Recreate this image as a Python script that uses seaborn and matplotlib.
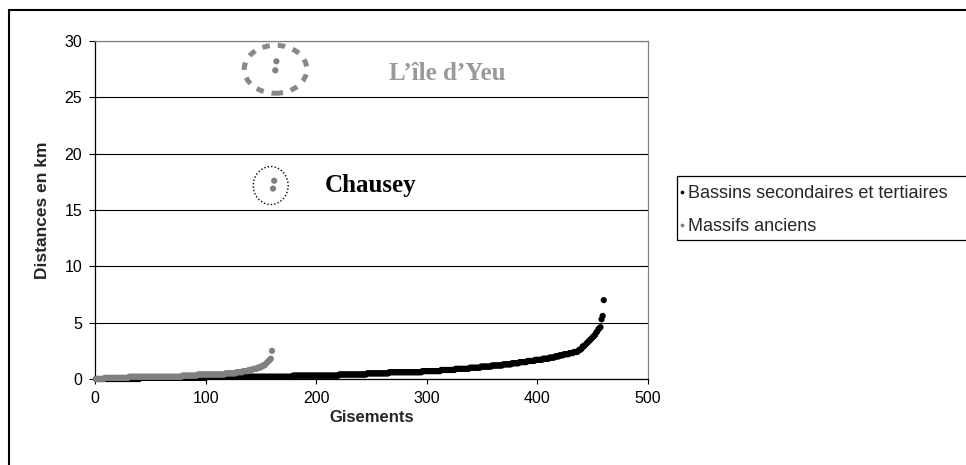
import numpy as np
import pandas as pd
import matplotlib
matplotlib.use("Agg")
import matplotlib.pyplot as plt
import seaborn as sns
from matplotlib.patches import Ellipse, Rectangle

# ---------------- data ----------------
series_names = ["Bassins secondaires et tertiaires", "Massifs anciens"]

# Bassins secondaires et tertiaires: sorted distances, plateaus (km) and their lengths
bassins_levels = [0.0, 0.1, 0.2, 0.3, 0.4, 0.5, 0.6, 0.7, 0.8, 0.9, 1.0, 1.1, 1.2,
                  1.3, 1.4, 1.5, 1.6, 1.7, 1.8, 1.9, 2.0, 2.1, 2.2, 2.3, 2.4]
bassins_counts = [40, 60, 78, 42, 25, 20, 30, 17, 13, 13, 10, 10, 10,
                  8, 7, 7, 7, 7, 6, 5, 4, 4, 5, 4, 4]
bassins_tail = [2.5, 2.6, 2.6, 2.7, 2.9, 2.9, 3.0, 3.1, 3.2, 3.3, 3.4, 3.5,
                3.6, 3.7, 3.8, 3.9, 4.1, 4.2, 4.4, 4.5, 4.6, 5.3, 5.6, 7.0]

# Massifs anciens
massifs_levels = [0.0, 0.1, 0.2, 0.3, 0.4, 0.5, 0.6, 0.7, 0.8, 0.9, 1.0, 1.1, 1.2]
massifs_counts = [8, 22, 48, 14, 25, 10, 6, 5, 4, 4, 3, 2, 2]
massifs_tail = [1.3, 1.4, 1.5, 1.6, 1.7, 1.8, 2.5, 16.9, 17.6, 27.4, 28.2]

x_ticks = [0, 100, 200, 300, 400, 500]
y_ticks = [0, 5, 10, 15, 20, 25, 30]

annot_yeu = "L\u2019île d\u2019Yeu"
annot_chausey = "Chausey"

# ---------------- build table ----------------
bassins = np.concatenate([np.repeat(bassins_levels, bassins_counts), bassins_tail])
massifs = np.concatenate([np.repeat(massifs_levels, massifs_counts), massifs_tail])
df = pd.concat([
    pd.DataFrame({"Gisements": np.arange(1, len(bassins) + 1), "Distances": bassins,
                  "Série": series_names[0]}),
    pd.DataFrame({"Gisements": np.arange(1, len(massifs) + 1), "Distances": massifs,
                  "Série": series_names[1]}),
], ignore_index=True)

# ---------------- style ----------------
sns.set_style("white")
plt.rcParams["font.family"] = ["Liberation Sans", "DejaVu Sans"]

W, H = 966, 465
fig = plt.figure(figsize=(W / 100, H / 100), dpi=100)
ax = fig.add_axes([95 / W, 1 - 379 / H, (648 - 95) / W, (379 - 41) / H])

sns.scatterplot(data=df, x="Gisements", y="Distances", hue="Série",
                palette={series_names[0]: "#000000", series_names[1]: "#808080"},
                s=20, linewidth=0, ax=ax, zorder=3, clip_on=False)

ax.set_xlim(0, 500)
ax.set_ylim(0, 30)
ax.set_xticks(x_ticks)
ax.set_yticks(y_ticks)
ax.tick_params(axis="both", labelsize=11.5, colors="black", direction="out")
ax.tick_params(axis="y", length=4.3, width=0.8, pad=5, left=True)
ax.tick_params(axis="x", length=3.6, width=0.8, pad=5, bottom=True)
ax.yaxis.grid(True, color="black", linewidth=0.8)
ax.xaxis.grid(False)
ax.set_axisbelow(True)
for side in ["left", "bottom"]:
    ax.spines[side].set_color("black")
    ax.spines[side].set_linewidth(0.9)
for side in ["top", "right"]:
    ax.spines[side].set_visible(True)
    ax.spines[side].set_color("#808080")
    ax.spines[side].set_linewidth(0.9)

ax.set_xlabel("Gisements", fontsize=12, fontweight="bold", labelpad=3)
ax.set_ylabel("Distances en km", fontsize=12.5, fontweight="bold", labelpad=10)

# annotations
ax.add_patch(Ellipse((163.2, 27.49), width=56.6, height=4.26, fill=False,
                     edgecolor="#888888", linewidth=3.6, linestyle=(0, (1.5, 1.6)),
                     zorder=4, clip_on=False))
ax.add_patch(Ellipse((158.9, 17.17), width=31.6, height=3.37, fill=False,
                     edgecolor="black", linewidth=1.0, linestyle=(0, (1, 1.5)),
                     zorder=4))
ax.text(318.3, 26.53, annot_yeu, ha="center", va="baseline", fontsize=18,
        fontweight="bold", color="#999999", family=["Liberation Serif", "DejaVu Serif"])
ax.text(248.9, 16.57, annot_chausey, ha="center", va="baseline", fontsize=18,
        fontweight="bold", color="black", family=["Liberation Serif", "DejaVu Serif"])

# legend (frame drawn separately: the reference box is taller than its entries)
handles, labels = ax.get_legend_handles_labels()
ax.legend(handles, labels, loc="upper left",
          bbox_to_anchor=(678 / W, 1 - 185 / H), bbox_transform=fig.transFigure,
          frameon=False, fontsize=13, markerscale=0.6, handlelength=0.4,
          handletextpad=0.15, borderpad=0, labelspacing=0.9, borderaxespad=0)
fig.patches.append(Rectangle((677 / W, 1 - 240 / H), 1.0, 64 / H,
                             transform=fig.transFigure, fill=False,
                             edgecolor="black", linewidth=0.9))

# outer chart frame
fig.patches.append(Rectangle((9 / W, -0.5), 2.0, (1 - 10 / H) + 0.5,
                             transform=fig.transFigure, fill=False,
                             edgecolor="black", linewidth=1.5))

fig.savefig("out.png", dpi=100)
